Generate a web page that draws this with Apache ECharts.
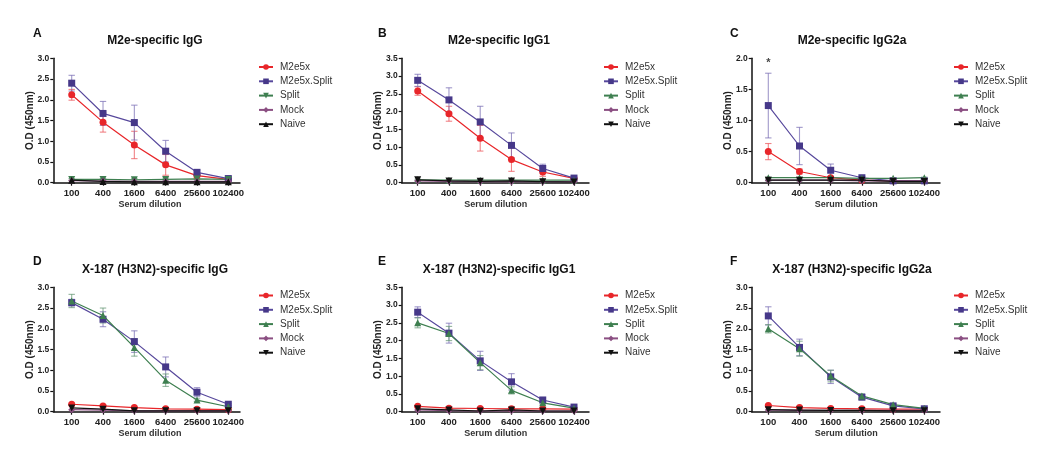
<!DOCTYPE html>
<html><head><meta charset="utf-8">
<script src="https://cdn.jsdelivr.net/npm/echarts@6/dist/echarts.min.js"></script>
<style>html,body{margin:0;padding:0;background:#fff}#c{width:1050px;height:464px}</style>
</head><body><div id="c"></div>
<script>
// ---- categories / labels ----
const dilutions = ['100', '400', '1600', '6400', '25600', '102400'];
const groupNames = ['M2e5x', 'M2e5x.Split', 'Split', 'Mock', 'Naive'];
const panelLetters = ['A', 'B', 'C', 'D', 'E', 'F'];
const panelTitles = ['M2e-specific IgG', 'M2e-specific IgG1', 'M2e-specific IgG2a',
  'X-187 (H3N2)-specific IgG', 'X-187 (H3N2)-specific IgG1', 'X-187 (H3N2)-specific IgG2a'];
const yMaxes = [3.0, 3.5, 2.0, 3.0, 3.5, 3.0];

// ---- Panel A ----
const A_M2e5x = [2.12, 1.46, 0.91, 0.43, 0.17, 0.08];
const A_M2e5x_err = [0.13, 0.24, 0.33, 0.25, 0.03, 0.02];
const A_M2e5xSplit = [2.40, 1.67, 1.45, 0.76, 0.25, 0.10];
const A_M2e5xSplit_err = [0.19, 0.29, 0.42, 0.26, 0.05, 0.02];
const A_Split = [0.08, 0.08, 0.07, 0.08, 0.09, 0.08];
const A_Split_err = [0.02, 0.02, 0.03, 0.03, 0.02, 0.02];
const A_Mock = [0.05, 0.04, 0.03, 0.03, 0.03, 0.03];
const A_Naive = [0.06, 0.03, 0.02, 0.02, 0.02, 0.02];
// ---- Panel B ----
const B_M2e5x = [2.58, 1.94, 1.25, 0.65, 0.30, 0.12];
const B_M2e5x_err = [0.12, 0.21, 0.36, 0.33, 0.12, 0.02];
const B_M2e5xSplit = [2.88, 2.33, 1.71, 1.05, 0.40, 0.13];
const B_M2e5xSplit_err = [0.17, 0.34, 0.44, 0.35, 0.12, 0.03];
const B_Split = [0.08, 0.07, 0.07, 0.07, 0.07, 0.07];
const B_Split_err = [0.02, 0.02, 0.02, 0.02, 0.02, 0.02];
const B_Mock = [0.05, 0.04, 0.03, 0.03, 0.03, 0.03];
const B_Naive = [0.08, 0.05, 0.04, 0.05, 0.03, 0.02];
// ---- Panel C ----
const C_M2e5x = [0.50, 0.18, 0.08, 0.04, 0.03, 0.03];
const C_M2e5x_err = [0.13, 0.04, 0.01, 0.01, 0.01, 0.01];
const C_M2e5xSplit = [1.24, 0.59, 0.20, 0.08, 0.03, 0.03];
const C_M2e5xSplit_err = [0.52, 0.30, 0.10, 0.02, 0.01, 0.01];
const C_Split = [0.08, 0.08, 0.08, 0.07, 0.07, 0.08];
const C_Split_err = [0.01, 0.01, 0.01, 0.01, 0.01, 0.01];
const C_Mock = [0.04, 0.04, 0.04, 0.03, 0.03, 0.03];
const C_Naive = [0.04, 0.04, 0.04, 0.04, 0.02, 0.02];
const C_sigMark = [['100', 1.92]];
// ---- Panel D ----
const D_M2e5x = [0.18, 0.14, 0.10, 0.07, 0.06, 0.05];
const D_M2e5x_err = [0.02, 0.02, 0.01, 0.01, 0.01, 0.01];
const D_M2e5xSplit = [2.63, 2.23, 1.69, 1.08, 0.47, 0.18];
const D_M2e5xSplit_err = [0.08, 0.18, 0.26, 0.24, 0.11, 0.02];
const D_Split = [2.67, 2.32, 1.55, 0.76, 0.28, 0.12];
const D_Split_err = [0.16, 0.18, 0.21, 0.15, 0.03, 0.02];
const D_Mock = [0.05, 0.04, 0.02, 0.02, 0.02, 0.02];
const D_Naive = [0.09, 0.06, 0.02, 0.02, 0.02, 0.02];
// ---- Panel E ----
const E_M2e5x = [0.15, 0.10, 0.09, 0.08, 0.08, 0.07];
const E_M2e5x_err = [0.02, 0.01, 0.01, 0.01, 0.01, 0.01];
const E_M2e5xSplit = [2.80, 2.21, 1.43, 0.84, 0.33, 0.13];
const E_M2e5xSplit_err = [0.15, 0.28, 0.27, 0.23, 0.05, 0.02];
const E_Split = [2.50, 2.20, 1.38, 0.60, 0.25, 0.10];
const E_Split_err = [0.14, 0.20, 0.20, 0.10, 0.04, 0.02];
const E_Mock = [0.05, 0.03, 0.02, 0.03, 0.02, 0.02];
const E_Naive = [0.08, 0.05, 0.02, 0.05, 0.02, 0.02];
// ---- Panel F ----
const F_M2e5x = [0.15, 0.10, 0.08, 0.07, 0.06, 0.06];
const F_M2e5x_err = [0.02, 0.01, 0.01, 0.01, 0.01, 0.01];
const F_M2e5xSplit = [2.31, 1.55, 0.84, 0.35, 0.14, 0.07];
const F_M2e5xSplit_err = [0.22, 0.20, 0.16, 0.05, 0.02, 0.01];
const F_Split = [2.00, 1.52, 0.86, 0.38, 0.17, 0.08];
const F_Split_err = [0.10, 0.18, 0.14, 0.05, 0.02, 0.01];
const F_Mock = [0.04, 0.03, 0.03, 0.03, 0.03, 0.03];
const F_Naive = [0.05, 0.04, 0.03, 0.03, 0.02, 0.02];

const panelData = [
  [A_M2e5x, A_M2e5xSplit, A_Split, A_Mock, A_Naive],
  [B_M2e5x, B_M2e5xSplit, B_Split, B_Mock, B_Naive],
  [C_M2e5x, C_M2e5xSplit, C_Split, C_Mock, C_Naive],
  [D_M2e5x, D_M2e5xSplit, D_Split, D_Mock, D_Naive],
  [E_M2e5x, E_M2e5xSplit, E_Split, E_Mock, E_Naive],
  [F_M2e5x, F_M2e5xSplit, F_Split, F_Mock, F_Naive]
];
const panelErr = [
  [A_M2e5x_err, A_M2e5xSplit_err, A_Split_err],
  [B_M2e5x_err, B_M2e5xSplit_err, B_Split_err],
  [C_M2e5x_err, C_M2e5xSplit_err, C_Split_err],
  [D_M2e5x_err, D_M2e5xSplit_err, D_Split_err],
  [E_M2e5x_err, E_M2e5xSplit_err, E_Split_err],
  [F_M2e5x_err, F_M2e5xSplit_err, F_Split_err]
];

// ---- styling / layout ----
const FONT = 'Liberation Sans, Arial, sans-serif';
const lineColors = ['#e8262a', '#57489c', '#3e7f50', '#8b4f82', '#111111'];
const symbolFill = ['#e8262a', '#463889', '#3e7f50', '#8b4f82', '#111111'];
const errColors = ['rgba(236,90,95,0.75)', 'rgba(120,108,180,0.7)', 'rgba(100,150,115,0.7)'];
const symbols = ['circle', 'rect', 'triangle', 'diamond', 'triangle'];
const symSizes = [7, 7, 7, 7, 7];
// columns: y-axis x, first category x, last category x, axis end x, legend x, title center, letter x
const cols = [
  {yx: 53.3, c0: 71.7, c1: 228.3, end: 240, lg: 258, tc: 150, lx: 28},
  {yx: 401.7, c0: 417.7, c1: 574, end: 589, lg: 603, tc: 494, lx: 373},
  {yx: 751.7, c0: 768.3, c1: 924.3, end: 940, lg: 953, tc: 847, lx: 725}
];
const rows = [
  {top: 58.3, h: 124.4, title: 30, letter: 22.5, legend: 61},
  {top: 287.3, h: 124.4, title: 259, letter: 250.5, legend: 289.5}
];

const grids = [], xAxes = [], yAxes = [], series = [], titles = [], legends = [];
const axisBlack = {lineStyle: {color: '#111', width: 1.5}};

for (let p = 0; p < 6; p++) {
  const col = cols[p % 3], row = rows[Math.floor(p / 3)];
  const L = panelLetters[p];
  const gi = grids.length;
  // data grid: spans from first to last category
  grids.push({left: col.c0, width: col.c1 - col.c0, top: row.top, height: row.h, containLabel: false});
  xAxes.push({
    type: 'category', gridIndex: gi, data: dilutions, boundaryGap: false,
    axisLine: {show: false},
    axisTick: {show: true, length: 3, interval: 0, lineStyle: {color: '#111', width: 1.2}},
    axisLabel: {fontFamily: FONT, fontSize: 9.5, fontWeight: 'bold', color: '#222', margin: 6,
      interval: 0, hideOverlap: false},
    name: 'Serum dilution', nameLocation: 'middle', nameGap: 17, nameMoveOverlap: false,
    nameTextStyle: {fontFamily: FONT, fontSize: 9, fontWeight: 'bold', color: '#333'}
  });
  yAxes.push({
    type: 'value', gridIndex: gi, min: 0, max: yMaxes[p], interval: 0.5,
    offset: col.c0 - col.yx,
    axisLine: {show: true, ...axisBlack},
    axisTick: {show: true, length: 3, inside: false, lineStyle: {color: '#111', width: 1.2}},
    splitLine: {show: false},
    axisLabel: {fontFamily: FONT, fontSize: 8.5, fontWeight: 'bold', color: '#222', margin: 4,
      formatter: v => v.toFixed(1)},
    name: 'O.D (450nm)', nameLocation: 'middle', nameGap: 18, nameMoveOverlap: false,
    nameTextStyle: {fontFamily: FONT, fontSize: 10, fontWeight: 'bold', color: '#222'}
  });
  // axis-line grid: spans from y axis to end of x axis
  const gl = grids.length;
  grids.push({left: col.yx, width: col.end - col.yx, top: row.top, height: row.h});
  xAxes.push({type: 'value', gridIndex: gl, min: 0, max: 1, axisLine: {show: true, onZero: false, ...axisBlack},
    axisTick: {show: false}, axisLabel: {show: false}, splitLine: {show: false}});
  yAxes.push({type: 'value', gridIndex: gl, min: 0, max: 1, show: false});

  const xi = xAxes.length - 2, yi = yAxes.length - 2;
  // error bars
  panelErr[p].forEach((errs, s) => {
    const vals = panelData[p][s];
    const color = errColors[s];
    series.push({
      type: 'custom', name: L + '|' + groupNames[s] + '|err', xAxisIndex: xi, yAxisIndex: yi, z: 1,
      data: vals.map((v, i) => [i, Math.max(0, v - errs[i]), v + errs[i]]),
      encode: {x: 0, y: [1, 2]},
      renderItem: (params, api) => {
        const lo = api.coord([api.value(0), api.value(1)]);
        const hi = api.coord([api.value(0), api.value(2)]);
        const w = 3.2;
        const st = {stroke: color, lineWidth: 1.1};
        return {type: 'group', children: [
          {type: 'line', shape: {x1: lo[0], y1: lo[1], x2: hi[0], y2: hi[1]}, style: st},
          {type: 'line', shape: {x1: hi[0] - w, y1: hi[1], x2: hi[0] + w, y2: hi[1]}, style: st},
          {type: 'line', shape: {x1: lo[0] - w, y1: lo[1], x2: lo[0] + w, y2: lo[1]}, style: st}
        ]};
      }
    });
  });
  // lines
  const legendNames = [];
  panelData[p].forEach((vals, s) => {
    let rot = 0;
    if (s === 2 && p === 0) rot = 180;      // Split: down-triangle in A
    if (s === 4 && p !== 0) rot = 180;      // Naive: down-triangle in B-F
    const nm = L + '|' + groupNames[s];
    legendNames.push(nm);
    series.push({
      type: 'line', name: nm, xAxisIndex: xi, yAxisIndex: yi, data: vals,
      symbol: symbols[s], symbolSize: symSizes[s], symbolRotate: rot, showAllSymbol: true,
      lineStyle: {color: lineColors[s], width: 1.2},
      itemStyle: {color: symbolFill[s], borderWidth: 0},
      z: 3 + (s === 4 ? 1 : 0), emphasis: {disabled: true}
    });
  });
  if (p === 2) {
    series.push({type: 'scatter', name: 'C|sig', xAxisIndex: xi, yAxisIndex: yi, data: C_sigMark,
      symbol: 'circle', symbolSize: 1, itemStyle: {color: 'rgba(0,0,0,0)'},
      label: {show: true, position: 'inside', formatter: '*', fontFamily: FONT, fontSize: 11,
        fontWeight: 'bold', color: '#111'}});
  }
  titles.push({text: panelTitles[p], left: col.tc, top: row.title, textAlign: 'center',
    textStyle: {fontFamily: FONT, fontSize: 12, fontWeight: 'bold', color: '#111'}});
  titles.push({text: L, left: col.lx, top: row.letter,
    textStyle: {fontFamily: FONT, fontSize: 12, fontWeight: 'bold', color: '#111'}});
  legends.push({
    data: legendNames, orient: 'vertical', left: col.lg, top: row.legend, padding: 0,
    itemWidth: 14, itemHeight: 7, itemGap: 2.3, selectedMode: false,
    formatter: n => n.split('|')[1],
    textStyle: {fontFamily: FONT, fontSize: 10, color: '#333', lineHeight: 12, padding: [0, 0, 0, 2]}
  });
}

const chart = echarts.init(document.getElementById('c'), null, {renderer: 'canvas'});
chart.setOption({
  animation: false, backgroundColor: '#fff',
  title: titles, legend: legends, grid: grids, xAxis: xAxes, yAxis: yAxes, series: series
});
</script></body></html>
